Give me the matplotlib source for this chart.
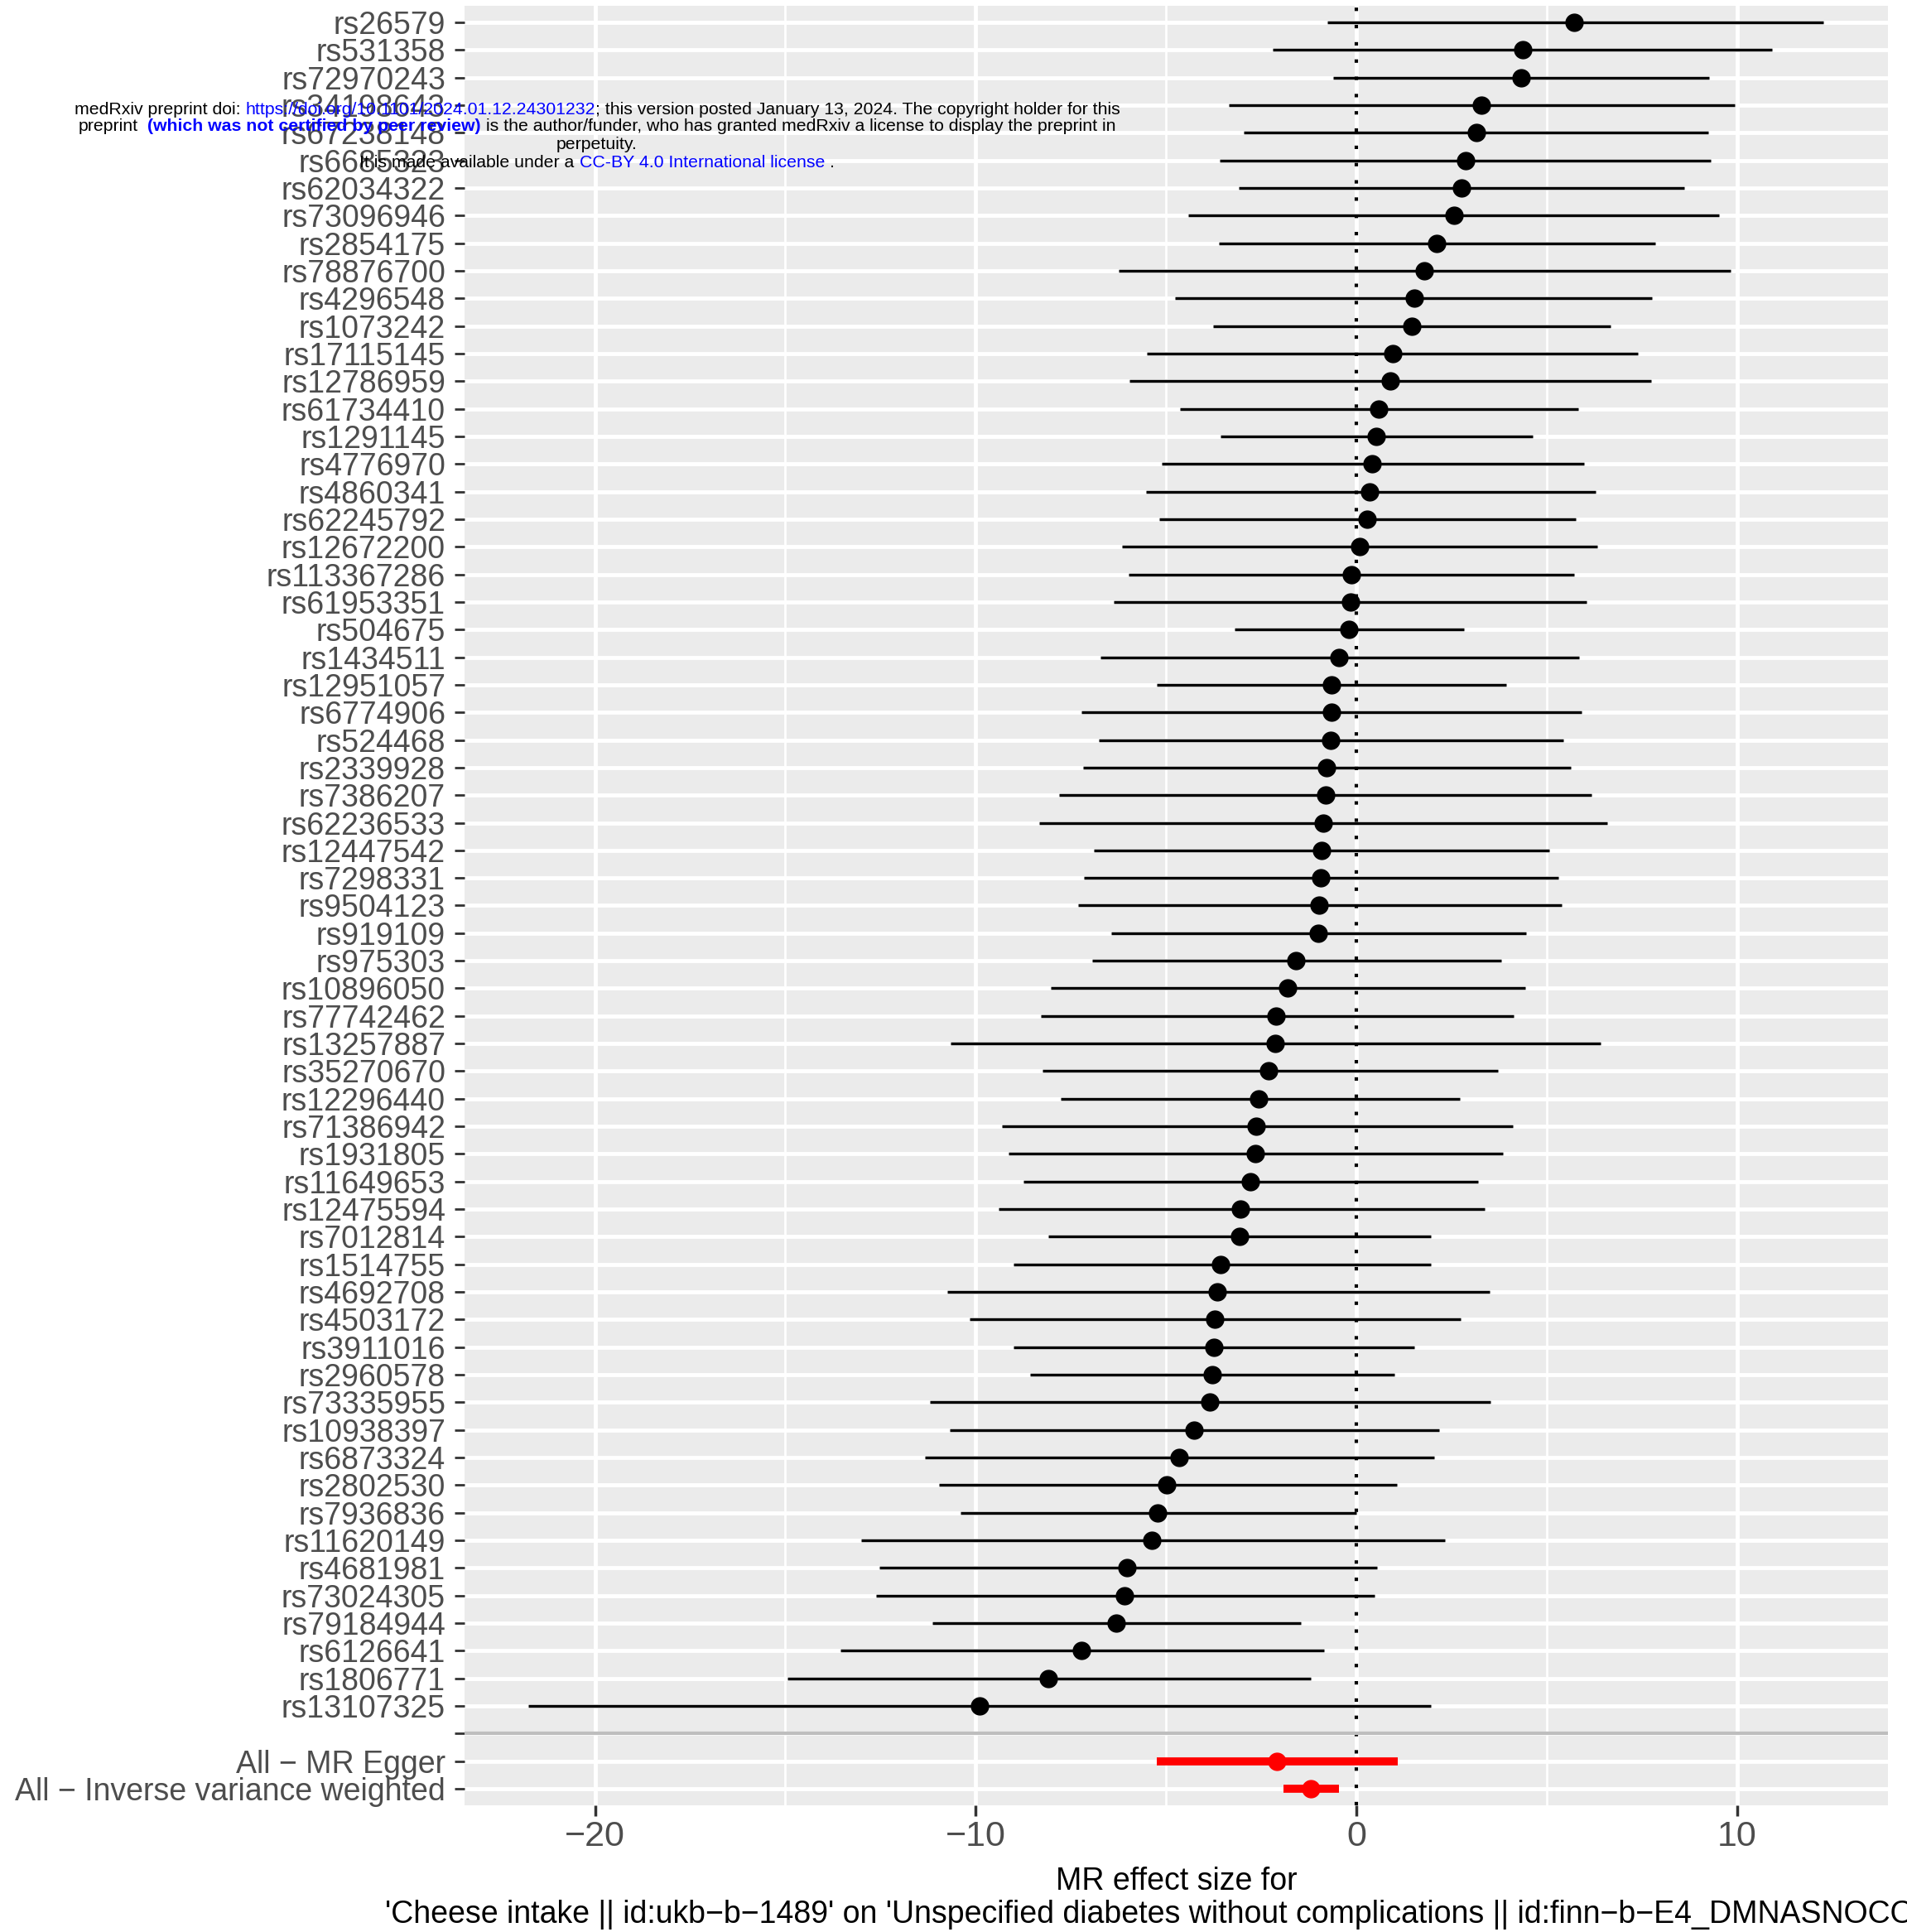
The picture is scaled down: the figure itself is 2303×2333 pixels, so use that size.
import numpy as np
import matplotlib
matplotlib.use("Agg")
import matplotlib.pyplot as plt
from matplotlib.transforms import IdentityTransform

plt.rcParams['font.family'] = ['Liberation Sans', 'DejaVu Sans']

W, H = 2303, 2333

snps = ["rs26579", "rs531358", "rs72970243", "rs34198643", "rs67238148", "rs6685323",
        "rs62034322", "rs73096946", "rs2854175", "rs78876700", "rs4296548", "rs1073242",
        "rs17115145", "rs12786959", "rs61734410", "rs1291145", "rs4776970", "rs4860341",
        "rs62245792", "rs12672200", "rs113367286", "rs61953351", "rs504675", "rs1434511",
        "rs12951057", "rs6774906", "rs524468", "rs2339928", "rs7386207", "rs62236533",
        "rs12447542", "rs7298331", "rs9504123", "rs919109", "rs975303", "rs10896050",
        "rs77742462", "rs13257887", "rs35270670", "rs12296440", "rs71386942", "rs1931805",
        "rs11649653", "rs12475594", "rs7012814", "rs1514755", "rs4692708", "rs4503172",
        "rs3911016", "rs2960578", "rs73335955", "rs10938397", "rs6873324", "rs2802530",
        "rs7936836", "rs11620149", "rs4681981", "rs73024305", "rs79184944", "rs6126641",
        "rs1806771", "rs13107325"]
beta = [5.73, 4.37, 4.34, 3.28, 3.16, 2.88, 2.76, 2.56, 2.12, 1.78, 1.52, 1.45,
        0.95, 0.89, 0.58, 0.52, 0.42, 0.36, 0.29, 0.10, -0.13, -0.16, -0.19, -0.45,
        -0.65, -0.65, -0.68, -0.78, -0.81, -0.87, -0.91, -0.94, -0.97, -1.00, -1.59, -1.81,
        -2.10, -2.14, -2.30, -2.56, -2.62, -2.65, -2.78, -3.04, -3.07, -3.56, -3.66, -3.72,
        -3.75, -3.79, -3.85, -4.27, -4.66, -4.98, -5.21, -5.37, -6.02, -6.08, -6.31, -7.22,
        -8.09, -9.90]
lo = [-0.75, -2.20, -0.61, -3.34, -2.95, -3.58, -3.09, -4.41, -3.60, -6.25, -4.76, -3.77,
      -5.50, -5.96, -4.63, -3.56, -5.11, -5.53, -5.18, -6.15, -5.99, -6.38, -3.20, -6.73,
      -5.24, -7.22, -6.76, -7.18, -7.80, -8.32, -6.89, -7.15, -7.31, -6.44, -6.93, -8.03,
      -8.28, -10.65, -8.25, -7.77, -9.32, -9.13, -8.74, -9.39, -8.09, -9.00, -10.74, -10.16,
      -9.00, -8.58, -11.20, -10.68, -11.33, -10.97, -10.39, -13.00, -12.52, -12.62, -11.13, -13.56,
      -14.95, -21.75]
hi = [12.27, 10.92, 9.28, 9.94, 9.25, 9.32, 8.61, 9.53, 7.85, 9.84, 7.78, 6.69,
      7.40, 7.75, 5.83, 4.63, 5.99, 6.28, 5.76, 6.34, 5.73, 6.05, 2.82, 5.86,
      3.95, 5.92, 5.44, 5.63, 6.18, 6.60, 5.08, 5.31, 5.40, 4.47, 3.82, 4.43,
      4.14, 6.41, 3.72, 2.72, 4.11, 3.85, 3.20, 3.37, 1.97, 1.97, 3.50, 2.75,
      1.52, 1.00, 3.53, 2.17, 2.04, 1.07, 0.00, 2.33, 0.55, 0.49, -1.46, -0.84,
      -1.20, 1.97]

methods = ["All \u2212 MR Egger", "All \u2212 Inverse variance weighted"]
m_beta = [-2.08, -1.20]
m_lo = [-5.25, -1.91]
m_hi = [1.09, -0.46]

labels = snps + [""] + methods
y_all = np.arange(len(labels))
y_snp = y_all[:len(snps)]
y_sep = len(snps)
y_m = y_all[len(snps) + 1:]

fig = plt.figure(figsize=(W / 100, H / 100), dpi=100)
ax = fig.add_axes([561 / W, 1 - 2180 / H, (2280 - 561) / W, (2180 - 7) / H])
ax.set_facecolor('#EBEBEB')
for s in ax.spines.values():
    s.set_visible(False)

ax.set_xlim(-23.43, 13.97)
ax.set_ylim(len(labels) - 0.4, -0.6)
ax.set_xticks([-20, -10, 0, 10])
ax.set_xticks([-15, -5, 5], minor=True)
ax.set_yticks(y_all)
ax.set_yticklabels(labels)
ax.set_axisbelow(True)
ax.grid(which='major', color='white', lw=3.5)
ax.grid(which='minor', axis='x', color='white', lw=2)

ax.tick_params(axis='y', length=8.5, width=2, color='#333333', labelsize=27,
               labelcolor='#4D4D4D', pad=8)
ax.tick_params(axis='x', which='major', length=9, width=2.5, color='#333333',
               labelsize=31, labelcolor='#4D4D4D', pad=4)
ax.tick_params(axis='x', which='minor', length=0)

ax.axvline(0, color='black', ls=(0, (1, 4)), lw=3, zorder=2)
ax.axhline(y_sep, color='#BEBEBE', lw=3, zorder=2)

ax.hlines(y_snp, lo, hi, color='black', lw=2.5, zorder=3)
ax.plot(beta, y_snp, 'o', color='black', ms=15, zorder=4)
ax.hlines(y_m, m_lo, m_hi, color='red', lw=7, zorder=3)
ax.plot(m_beta, y_m, 'o', color='red', ms=15, zorder=4)

cx = (561 + 2280) / 2 / W
fig.text(cx, 1 - 2272 / H, "MR effect size for", ha='center', va='center', fontsize=27)
fig.text(cx, 1 - 2312 / H,
         "'Cheese intake || id:ukb\u2212b\u22121489' on 'Unspecified diabetes without complications || id:finn\u2212b\u2212E4_DMNASNOCOMP'",
         ha='center', va='center', fontsize=27)

# medRxiv banner overlaid on the page
blue = '#0000FF'
banner = [
    (132, [(0, "medRxiv preprint doi:", 'black', 'normal'),
           (1, "https://doi.org/10.1101/2024.01.12.24301232", blue, 'normal'),
           (0, "; this version posted January 13, 2024. The copyright holder for this", 'black', 'normal')]),
    (153, [(0, "preprint", 'black', 'normal'),
           (2, "(which was not certified by peer review)", blue, 'bold'),
           (1, "is the author/funder, who has granted medRxiv a license to display the preprint in", 'black', 'normal')]),
    (175, [(0, "perpetuity.", 'black', 'normal')]),
    (196, [(0, "It is made available under a", 'black', 'normal'),
           (1, "CC-BY 4.0 International license", blue, 'normal'),
           (1, ".", 'black', 'normal')]),
]
renderer = fig.canvas.get_renderer()


def text_w(s, size, weight='normal'):
    t = fig.text(0, 0, s, fontsize=size, fontweight=weight, transform=IdentityTransform())
    w = t.get_window_extent(renderer).width
    t.remove()
    return w


base = 14
line1 = "medRxiv preprint doi: https://doi.org/10.1101/2024.01.12.24301232; this version posted January 13, 2024. The copyright holder for this"
size = base * 1271 / text_w(line1, base)
space = text_w("a a", size) - text_w("aa", size)
center = 721
for ytop, pieces in banner:
    widths = [text_w(s, size, wt) for _, s, _, wt in pieces]
    total = sum(widths) + space * sum(p[0] for p in pieces)
    x = center - total / 2
    for (nsp, s, col, wt), w in zip(pieces, widths):
        x += nsp * space
        fig.text(x, H - ytop, s, color=col, fontweight=wt, fontsize=size,
                 va='center', ha='left', transform=IdentityTransform())
        x += w

fig.savefig('out.png', dpi=100)
